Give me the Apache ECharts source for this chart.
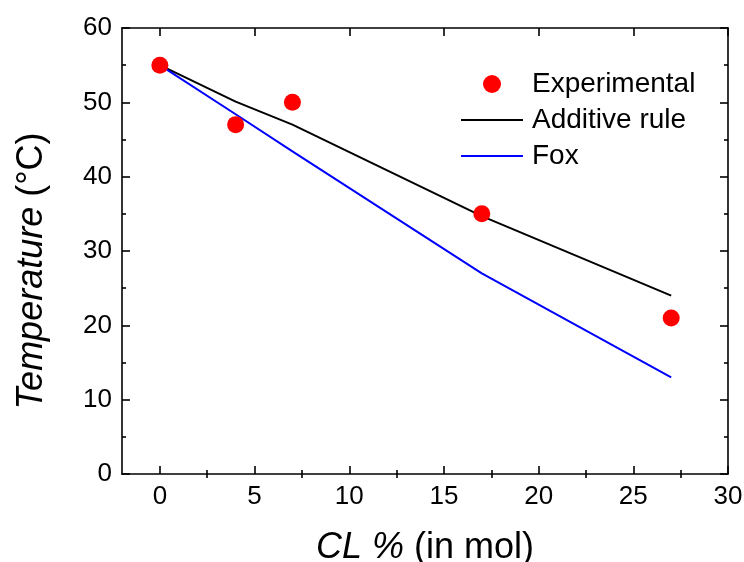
<!DOCTYPE html>
<html><head><meta charset="utf-8">
<script src="https://cdn.jsdelivr.net/npm/echarts@6/dist/echarts.min.js"></script>
<style>html,body{margin:0;padding:0;background:#fff}#c{width:744px;height:562px}</style>
</head><body><div id="c"></div>
<script>
const clPercent = [0, 4, 7, 17, 27];
const experimental = [55, 47, 50, 35, 21];
const additiveRule = [55, 50.1, 47, 34.7, 24];
const fox = [55, 48.4, 43.4, 27, 13];
const xMajorTicks = [0, 5, 10, 15, 20, 25, 30];
const xMinorTicks = [2.5, 7.5, 12.5, 17.5, 22.5, 27.5];
const seriesNames = ['Experimental', 'Additive rule', 'Fox'];

const FONT = 'Liberation Sans, Arial, sans-serif';
const pair = (xs, ys) => xs.map((x, i) => [x, ys[i]]);
const lineStyleAxis = { color: '#000', width: 1.6 };

function xAx(pos, show) {
  return [{
    type: 'value', position: pos, min: -2, max: 30,
    axisLine: { show: true, onZero: false, lineStyle: lineStyleAxis },
    axisTick: { show: true, inside: true, length: 8, lineStyle: lineStyleAxis, customValues: xMajorTicks },
    axisLabel: { show: show, customValues: xMajorTicks, color: '#000', fontSize: 26, fontFamily: FONT, margin: 10 },
    splitLine: { show: false },
    name: show ? '{i|CL %}{n| (in mol)}' : '',
    nameLocation: 'middle', nameGap: 56,
    nameTextStyle: { rich: {
      i: { fontSize: 36, fontStyle: 'italic', fontFamily: FONT, color: '#000' },
      n: { fontSize: 36, fontFamily: FONT, color: '#000' } } }
  }, {
    type: 'value', position: pos, min: -2, max: 30,
    axisLine: { show: false },
    axisTick: { show: true, inside: true, length: 4, lineStyle: lineStyleAxis, customValues: xMinorTicks },
    axisLabel: { show: false }, splitLine: { show: false }
  }];
}
function yAx(pos, show) {
  return {
    type: 'value', position: pos, min: 0, max: 60, interval: 10,
    axisLine: { show: true, onZero: false, lineStyle: lineStyleAxis },
    axisTick: { show: true, inside: true, length: 8, lineStyle: lineStyleAxis },
    minorTick: { show: true, splitNumber: 2, length: 4, lineStyle: lineStyleAxis },
    axisLabel: { show: show, color: '#000', fontSize: 26, fontFamily: FONT, margin: 10 },
    splitLine: { show: false }, minorSplitLine: { show: false },
    name: show ? '{i|Temperature}{n| (°C)}' : '',
    nameLocation: 'middle', nameGap: 72, nameRotate: 90,
    nameTextStyle: { padding: [0, 40, 0, 0], rich: {
      i: { fontSize: 36, fontStyle: 'italic', fontFamily: FONT, color: '#000' },
      n: { fontSize: 36, fontFamily: FONT, color: '#000' } } }
  };
}

const chart = echarts.init(document.getElementById('c'), null, { renderer: 'canvas' });
chart.setOption({
  animation: false,
  backgroundColor: '#fff',
  grid: { left: 122, right: 16, top: 28, bottom: 88, containLabel: false, outerBoundsMode: 'none' },
  xAxis: [...xAx('bottom', true), ...xAx('top', false)],
  yAxis: [yAx('left', true), yAx('right', false)],
  legend: {
    orient: 'vertical', left: 461, top: 70, padding: 0,
    itemWidth: 62, itemHeight: 18, itemGap: 8,
    symbolKeepAspect: true,
    textStyle: { fontSize: 28, fontFamily: FONT, color: '#000', padding: [0, 0, 0, 4] },
    data: [
      { name: seriesNames[0], icon: 'circle' },
      { name: seriesNames[1], icon: 'path://M0,0H62V2H0Z' },
      { name: seriesNames[2], icon: 'path://M0,0H62V2H0Z' }
    ]
  },
  series: [
    { name: seriesNames[1], type: 'line', data: pair(clPercent, additiveRule), showSymbol: false, symbol: 'none',
      lineStyle: { color: '#000', width: 2 }, itemStyle: { color: '#000' }, z: 2 },
    { name: seriesNames[2], type: 'line', data: pair(clPercent, fox), showSymbol: false, symbol: 'none',
      lineStyle: { color: '#0000ff', width: 2 }, itemStyle: { color: '#0000ff' }, z: 2 },
    { name: seriesNames[0], type: 'scatter', data: pair(clPercent, experimental), symbol: 'circle', symbolSize: 17,
      itemStyle: { color: '#ff0000', opacity: 1 }, z: 3 }
  ]
});
</script></body></html>
